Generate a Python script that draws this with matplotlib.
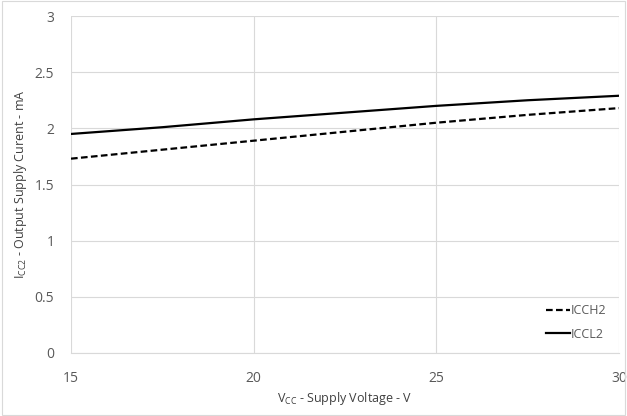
import matplotlib
matplotlib.use("Agg")
import matplotlib.pyplot as plt
from matplotlib.patches import Rectangle

plt.rcParams['font.family'] = ['Open Sans', 'DejaVu Sans']

# data
vcc = [15, 17.5, 20, 22.5, 25, 27.5, 30]
icch2 = [1.73, 1.81, 1.89, 1.97, 2.05, 2.12, 2.18]
iccl2 = [1.95, 2.01, 2.08, 2.14, 2.20, 2.25, 2.29]

x_ticks = [15, 20, 25, 30]
y_ticks = [0, 0.5, 1, 1.5, 2, 2.5, 3]

fig = plt.figure(figsize=(6.27, 4.16), dpi=100)
ax = fig.add_axes([71 / 627, 1 - 353 / 416, 548 / 627, 337 / 416])

ax.plot(vcc, icch2, color='black', linewidth=1.6, linestyle=(0, (3, 1.5)), label='ICCH2')
ax.plot(vcc, iccl2, color='black', linewidth=1.6, label='ICCL2')

ax.set_xlim(15, 30)
ax.set_ylim(0, 3)
ax.set_xticks(x_ticks)
ax.set_yticks(y_ticks)
ax.set_xticklabels([str(t) for t in x_ticks])
ax.set_yticklabels(['0', '0.5', '1', '1.5', '2', '2.5', '3'])
ax.grid(True, color='#d9d9d9', linewidth=0.8)
ax.set_axisbelow(True)
for side in ['top', 'right', 'left']:
    ax.spines[side].set_visible(False)
ax.spines['bottom'].set_color('#d9d9d9')
ax.tick_params(length=0, labelsize=10, colors='#595959')
ax.tick_params(axis='x', pad=13)
ax.tick_params(axis='y', pad=12)

ax.set_xlabel('V$_{\\mathregular{CC}}$ - Supply Voltage - V', fontsize=9, color='#404040', labelpad=3)
ax.set_ylabel('I$_{\\mathregular{CC2}}$ - Output Supply Curent - mA', fontsize=9, color='#404040', labelpad=4)

leg = ax.legend(loc='lower right', frameon=False, fontsize=9, handlelength=1.9,
                handletextpad=0.1, labelspacing=0.85, borderaxespad=0.6)
for t in leg.get_texts():
    t.set_color('#595959')

# outer chart border
fig.patches.append(Rectangle((0.003, 0.003), 0.994, 0.994, transform=fig.transFigure,
                             fill=False, edgecolor='#d9d9d9', linewidth=0.8))

fig.savefig('out.png', dpi=100)
